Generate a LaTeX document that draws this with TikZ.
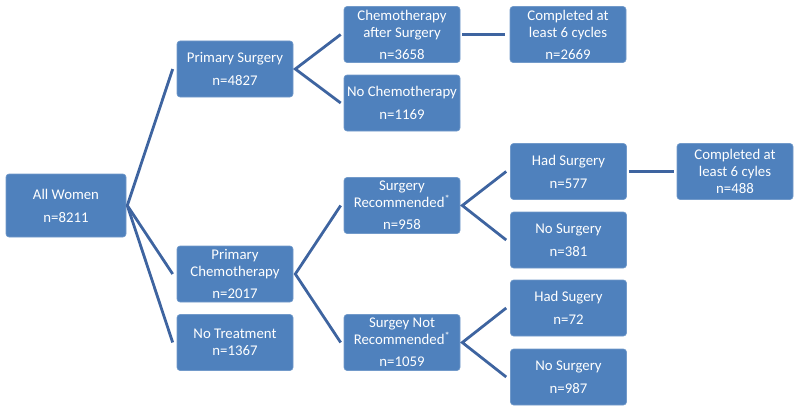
\documentclass[tikz,border=0pt]{standalone}
\usepackage{fontspec}
\setmainfont{Carlito}
\definecolor{boxblue}{HTML}{4F81BD}
\definecolor{lineblue}{HTML}{3E64A0}
\begin{document}
\begin{tikzpicture}[x=1pt,y=-1pt,
  box/.style={rectangle, rounded corners=3pt, fill=boxblue, draw=boxblue!80!white, line width=0.6pt,
    minimum width=116pt, minimum height=56pt, inner sep=0pt, text=white, align=center,
    font=\fontsize{14.8}{17}\selectfont},
  link/.style={draw=lineblue, line width=2.8pt}]
\useasboundingbox (0,0) rectangle (800,412);
\node[box, minimum width=120pt, minimum height=63pt] (all) at (66,205.5) {All Women\\[6pt]n=8211};
\node[box] (ps) at (235,69) {Primary Surgery\\[6pt]n=4827};
\node[box] (pc) at (235,274) {Primary\\Chemotherapy\\[5pt]n=2017};
\node[box] (nt) at (235,342.5) {No Treatment\\n=1367};
\node[box] (cas) at (402,34.5) {Chemotherapy\\after Surgery\\[5pt]n=3658};
\node[box] (nc) at (402,103) {No Chemotherapy\\[6pt]n=1169};
\node[box] (c6a) at (568,34.5) {Completed at\\least 6 cycles\\[5pt]n=2669};
\node[box] (sr) at (402,205.5) {Surgery\\Recommended\textsuperscript{*}\\[5pt]n=958};
\node[box] (snr) at (402,342.5) {Surgey Not\\Recommended\textsuperscript{*}\\[5pt]n=1059};
\node[box] (hs1) at (568.5,171.5) {Had Surgery\\[6pt]n=577};
\node[box] (ns1) at (568.5,240) {No Surgery\\[6pt]n=381};
\node[box] (c6b) at (735,171.5) {Completed at\\least 6 cyles\\n=488};
\node[box] (hs2) at (568.5,308) {Had Sugery\\[6pt]n=72};
\node[box] (ns2) at (568.5,377) {No Surgery\\[6pt]n=987};
% fans
\coordinate (fa) at ([xshift=1pt]all.east);
\draw[link] ([xshift=-4pt]ps.west) -- (fa) -- ([xshift=-4pt]pc.west);
\draw[link] (fa) -- ([xshift=-4pt]nt.west);
\coordinate (fps) at ([xshift=2pt]ps.east);
\draw[link] ([xshift=-3pt]cas.west) -- (fps) -- ([xshift=-3pt]nc.west);
\coordinate (fpc) at ([xshift=2pt]pc.east);
\draw[link] ([xshift=-3pt]sr.west) -- (fpc) -- ([xshift=-3pt]snr.west);
\coordinate (fsr) at ([xshift=2pt]sr.east);
\draw[link] ([xshift=-4pt]hs1.west) -- (fsr) -- ([xshift=-4pt]ns1.west);
\coordinate (fsnr) at ([xshift=2pt]snr.east);
\draw[link] ([xshift=-4pt]hs2.west) -- (fsnr) -- ([xshift=-4pt]ns2.west);
\draw[link] ([xshift=2pt]cas.east) -- ([xshift=-5pt]c6a.west);
\draw[link] ([xshift=2pt]hs1.east) -- ([xshift=-3pt]c6b.west);
\end{tikzpicture}
\end{document}
